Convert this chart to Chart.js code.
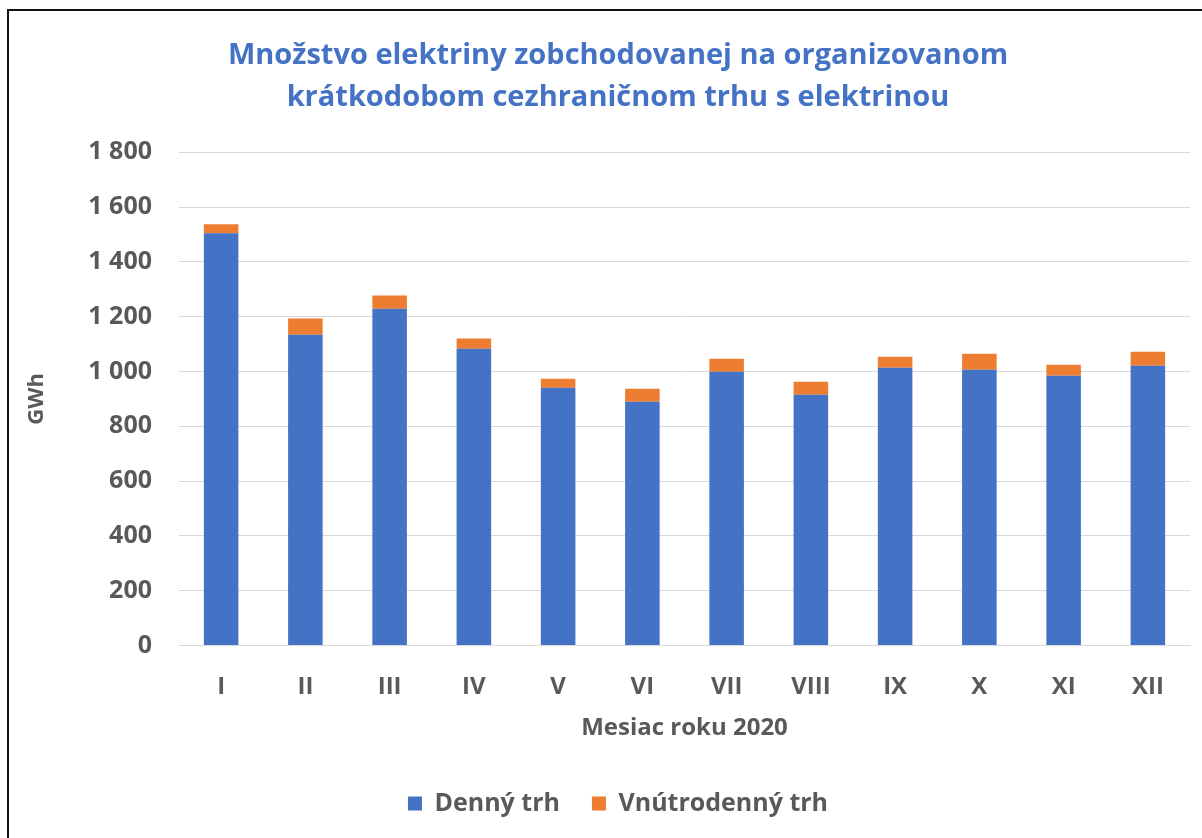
<!DOCTYPE html>
<html>
<head>
<meta charset="utf-8">
<script src="https://cdn.jsdelivr.net/npm/chart.js@4"></script>
<style>
  html, body { margin: 0; padding: 0; background: #fff; }
  #wrap { position: relative; width: 1202px; height: 838px; overflow: hidden; }
  #frame { position: absolute; left: 7px; top: 9px; right: -10px; bottom: -10px;
           border-left: 2px solid #111; border-top: 2px solid #111; pointer-events: none; }
  canvas { position: absolute; left: 0; top: 0; }
</style>
</head>
<body>
<div id="wrap">
  <canvas id="c" width="1202" height="838"></canvas>
  <div id="frame"></div>
</div>
<script>
// ── dáta ──
const MONTHS = ['I', 'II', 'III', 'IV', 'V', 'VI', 'VII', 'VIII', 'IX', 'X', 'XI', 'XII'];
const DENNY = [1504, 1134, 1229, 1083, 940, 889, 999, 915, 1013, 1006, 984, 1021];
const VNUTRODENNY = [33, 59, 48, 37, 33, 48, 47, 47, 41, 59, 40, 51];
const Y_TICKS = [0, 200, 400, 600, 800, 1000, 1200, 1400, 1600, 1800];

const GRAY = '#595959';
const FONT = '"Open Sans", "Noto Sans", sans-serif';

// posun titulku a legendy (Excel ich necentruje presne)
const nudge = {
  id: 'nudge',
  afterLayout(chart) {
    const t = chart.titleBlock, l = chart.legend;
    if (t) { t.left += 12; t.right += 12; }
    if (l) { l.left += 12; l.right += 12; }
  }
};

new Chart(document.getElementById('c'), {
  type: 'bar',
  data: {
    labels: MONTHS,
    datasets: [
      { label: 'Denný trh', data: DENNY, backgroundColor: '#4472C4' },
      { label: 'Vnútrodenný trh', data: VNUTRODENNY, backgroundColor: '#ED7D31' }
    ]
  },
  options: {
    responsive: false,
    animation: false,
    layout: { padding: { left: 22, right: 12, top: 0, bottom: 12 } },
    datasets: { bar: { barPercentage: 0.41, categoryPercentage: 1 } },
    plugins: {
      title: {
        display: true,
        text: ['Množstvo elektriny zobchodovanej na organizovanom', 'krátkodobom cezhraničnom trhu s elektrinou'],
        color: '#4472C4',
        font: { family: FONT, size: 29, weight: 'bold', lineHeight: 1.47 },
        padding: { top: 34, bottom: 33 }
      },
      legend: {
        position: 'bottom',
        labels: {
          color: GRAY,
          font: { family: FONT, size: 25, weight: 'bold' },
          boxWidth: 14, boxHeight: 14, padding: 32
        }
      },
      tooltip: { enabled: false }
    },
    scales: {
      x: {
        stacked: true,
        grid: { display: false, drawTicks: false },
        border: { color: '#D9D9D9', width: 1 },
        ticks: { color: GRAY, font: { family: FONT, size: 24, weight: 'bold' }, padding: 27 },
        title: {
          display: true, text: 'Mesiac roku 2020', color: GRAY,
          font: { family: FONT, size: 24, weight: 'bold' }, padding: { top: -14, bottom: 16 }
        }
      },
      y: {
        stacked: true,
        min: 0, max: 1800,
        afterBuildTicks(axis) { axis.ticks = Y_TICKS.map(v => ({ value: v })); },
        afterFit(axis) { axis.width = 157; },
        grid: { color: '#D9D9D9', lineWidth: 1, drawTicks: false },
        border: { display: false },
        ticks: {
          color: GRAY, font: { family: FONT, size: 25, weight: 'bold' }, padding: 27,
          callback: v => v.toLocaleString('sk-SK').replace(/\s/g, ' ')
        },
        title: {
          display: true, text: 'GWh', color: GRAY,
          font: { family: FONT, size: 22, weight: 'bold' }, padding: { top: 2, bottom: 0 }
        }
      }
    }
  },
  plugins: [nudge]
});
</script>
</body>
</html>
